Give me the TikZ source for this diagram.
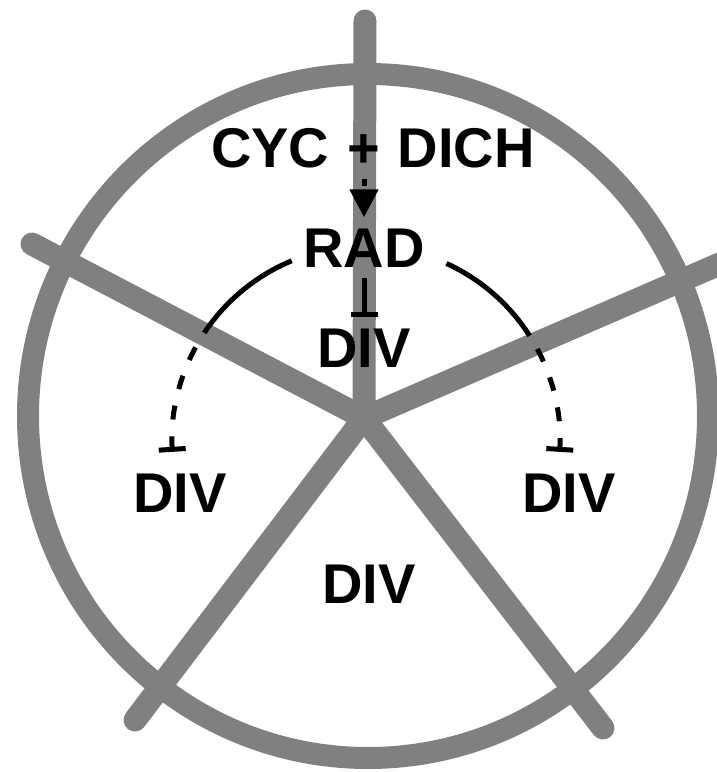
\documentclass[tikz,border=0pt]{standalone}
\usepackage{fontspec}
\setmainfont{Liberation Sans}
\usetikzlibrary{arrows.meta}

\begin{document}
\begin{tikzpicture}[x=1pt, y=1pt,
    spk/.style={draw=gray, line width=23pt, line cap=round},
    rim/.style={draw=gray, line width=22pt},
    lbl/.style={font=\fontsize{56}{60}\selectfont\bfseries, inner xsep=2pt,
                inner ysep=11pt, anchor=base},
    ln/.style={line width=5pt},
    act/.style={ln, dash pattern=on 7pt off 4pt, -{Triangle[width=28pt, length=28pt]}},
    inh/.style={ln, -{Bar[width=27pt]}},
    dsh/.style={dash pattern=on 14pt off 17pt},
  ]
  \useasboundingbox (0,0) rectangle (717,-772);
  \clip (0,0) rectangle (717,-772);
  \coordinate (hub) at (364,-418);
  \coordinate (ctr) at (366,-440);
  \draw[rim] (368,-416) ellipse [x radius=340, y radius=342];
  \foreach \x/\y in {365/-21, 32/-244, 745/-253, 135/-720, 603/-728}
    \draw[spk] (hub) -- (\x,\y);
  \node[lbl] (cyc) at (373,-167) {CYC\hspace{0.32em}+\hspace{0.32em}DICH};
  \node[lbl] (rad) at (364,-267) {RAD};
  \node[lbl] (div0) at (364,-367) {DIV};
  \node[lbl] (divl) at (180,-512) {DIV};
  \node[lbl] (divr) at (569,-512) {DIV};
  \node[lbl] (divb) at (369,-603) {DIV};
  \draw[act] (cyc.south -| rad.north) -- (rad.north);
  \draw[inh] (rad.south) -- (div0.north);
  \draw[ln] ([shift={(112.5:194)}]ctr) arc[start angle=112.5, end angle=146.5, radius=194];
  \draw[inh, dsh] ([shift={(151.5:194)}]ctr) arc[start angle=151.5, end angle=183.5, radius=194];
  \draw[ln] ([shift={(65.5:194)}]ctr) arc[start angle=65.5, end angle=32.5, radius=194];
  \draw[inh, dsh] ([shift={(28:194)}]ctr) arc[start angle=28, end angle=-3.5, radius=194];
\end{tikzpicture}
\end{document}
